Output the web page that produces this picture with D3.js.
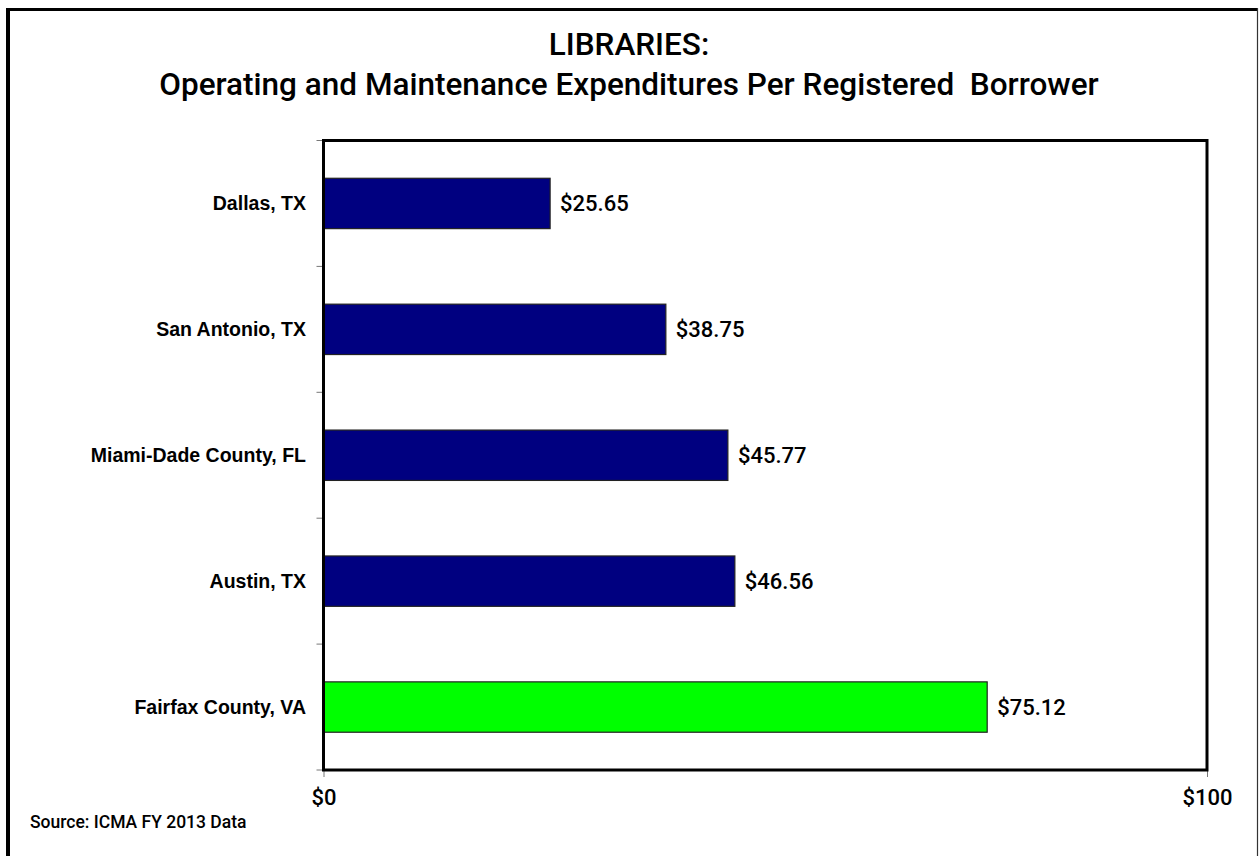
<!DOCTYPE html>
<html>
<head>
<meta charset="utf-8">
<script src="https://cdn.jsdelivr.net/npm/d3@7"></script>
<style>
  html, body { margin: 0; padding: 0; background: #fff; }
  svg { display: block; }
</style>
</head>
<body>
<svg id="chart" width="1259" height="856"></svg>
<script>
// Expenditure per registered borrower, FY 2013
const categories = ["Dallas, TX", "San Antonio, TX", "Miami-Dade County, FL", "Austin, TX", "Fairfax County, VA"];
const values = [25.65, 38.75, 45.77, 46.56, 75.12];
const barColors = ["#000080", "#000080", "#000080", "#000080", "#00FF00"];
const xTickValues = [0, 100];
const titleLines = ["LIBRARIES:", "Operating and Maintenance Expenditures Per Registered\u00A0 Borrower"];
const sourceNote = "Source: ICMA FY 2013 Data";

const svg = d3.select("#chart");
const W = 1259, H = 856;
const plot = { left: 323.5, right: 1207, top: 140.5, bottom: 770 };

svg.append("rect").attr("width", W).attr("height", H).attr("fill", "#fff");

// outer frame (runs off the bottom edge)
svg.append("line").attr("x1", 8).attr("x2", 8).attr("y1", 8).attr("y2", H + 5)
  .attr("stroke", "#000").attr("stroke-width", 4);
svg.append("line").attr("x1", 6).attr("x2", 1258).attr("y1", 9.5).attr("y2", 9.5)
  .attr("stroke", "#000").attr("stroke-width", 3);
svg.append("line").attr("x1", 1257.5).attr("x2", 1257.5).attr("y1", 8).attr("y2", H + 5)
  .attr("stroke", "#333").attr("stroke-width", 1.2);

// title
const titleFont = "'Roboto', 'Liberation Sans', sans-serif";
svg.append("g").selectAll("text").data(titleLines).join("text")
  .attr("x", 629).attr("y", (d, i) => 55 + i * 40)
  .attr("text-anchor", "middle")
  .attr("font-family", titleFont).attr("font-size", 31.5).attr("font-weight", 500)
  .attr("fill", "#000")
  .text(d => d);

const x = d3.scaleLinear().domain([0, 100]).range([plot.left, plot.right]);
const y = d3.scaleBand().domain(categories).range([plot.top, plot.bottom])
  .paddingInner(0.6).paddingOuter(0.3);

// category axis: ticks sit on band boundaries
const yBoundaries = d3.range(categories.length + 1).map(i => plot.top + i * y.step());
svg.append("g").selectAll("line").data(yBoundaries).join("line")
  .attr("x1", plot.left - 7).attr("x2", plot.left)
  .attr("y1", d => d).attr("y2", d => d)
  .attr("stroke", "#777").attr("stroke-width", 1);

svg.append("g").selectAll("text").data(categories).join("text")
  .attr("x", 306).attr("y", d => y(d) + y.bandwidth() / 2)
  .attr("dy", "0.36em").attr("text-anchor", "end")
  .attr("font-family", "'Liberation Sans', Arial, sans-serif")
  .attr("font-size", 19.5).attr("font-weight", 700).attr("fill", "#000")
  .text(d => d);

// value axis
const xAxis = d3.axisBottom(x).tickValues(xTickValues).tickSize(7)
  .tickFormat(d => "$" + d);
const gx = svg.append("g").attr("transform", `translate(0,${plot.bottom})`).call(xAxis);
gx.select(".domain").remove();
gx.selectAll(".tick line").attr("stroke", "#777");
gx.selectAll(".tick text")
  .attr("y", 19)
  .attr("font-family", titleFont).attr("font-size", 22).attr("font-weight", 500)
  .attr("fill", "#000");

// bars
const data = categories.map((c, i) => ({ c, v: values[i], color: barColors[i] }));
svg.append("g").selectAll("rect").data(data).join("rect")
  .attr("x", x(0)).attr("y", d => y(d.c))
  .attr("width", d => x(d.v) - x(0)).attr("height", y.bandwidth())
  .attr("fill", d => d.color)
  .attr("stroke", "#222").attr("stroke-width", 1.2);

// value labels
svg.append("g").selectAll("text").data(data).join("text")
  .attr("x", d => x(d.v) + 10).attr("y", d => y(d.c) + y.bandwidth() / 2)
  .attr("dy", "0.36em")
  .attr("font-family", titleFont).attr("font-size", 22).attr("font-weight", 500)
  .attr("fill", "#000")
  .text(d => "$" + d3.format(".2f")(d.v));

// plot frame
svg.append("rect")
  .attr("x", plot.left).attr("y", plot.top)
  .attr("width", plot.right - plot.left).attr("height", plot.bottom - plot.top)
  .attr("fill", "none").attr("stroke", "#000").attr("stroke-width", 3);

// source note
svg.append("text").attr("x", 30).attr("y", 828)
  .attr("font-family", titleFont).attr("font-size", 17.5).attr("font-weight", 500)
  .attr("fill", "#000")
  .text(sourceNote);
</script>
</body>
</html>
